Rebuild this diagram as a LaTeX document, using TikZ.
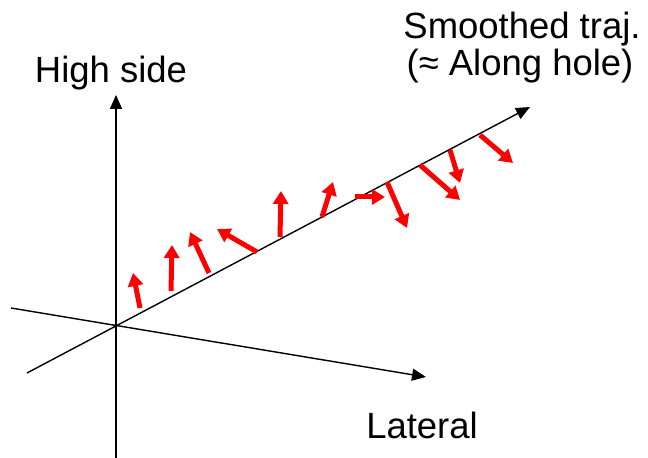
\documentclass[tikz,border=0pt]{standalone}
\usepackage{fontspec}
\setmainfont{Liberation Sans}
\usetikzlibrary{arrows.meta}
\tikzset{
  axis/.style={line width=1.4bp, -{Triangle[length=14bp,width=12bp]}},
  tool/.style={red, line width=5bp, -{Triangle[length=13bp,width=15bp]}},
  lbl/.style={font=\fontsize{36.6}{37.2}\selectfont, inner sep=0pt, anchor=base}
}
\begin{document}
\begin{tikzpicture}[x=1bp,y=-1bp]
  \useasboundingbox (0,0) rectangle (648,458);

  % Axes
  \coordinate (O) at (116,325);
  \coordinate (hsbot) at (116,458);
  \coordinate (hstop) at (116,95);
  \coordinate (latl) at (11,308);
  \coordinate (latr) at (426,377);
  \coordinate (trajl) at (27,373);
  \coordinate (trajr) at (530,107);
  \draw[axis] (hsbot) -- (hstop);
  \draw[axis] (latl) -- (latr);
  \draw[axis] (trajl) -- (trajr);

  % Labels
  \node[lbl] (hs) at (111,83) {High side};
  \node[lbl] (lat) at (422,438) {Lateral};
  \node[lbl] (tr1) at (522,39) {Smoothed traj.};
  \node[lbl] (tr2) at (520,76) {(≈ Along hole)};

  % Tool face vectors along the trajectory
  \foreach \bx/\by/\tx/\ty in {140/308/133/273, 171/291/172/245, 209/273/190/232,
      257/252/217/229, 280/237/281/191, 322/217/333/182, 355/197/385/197,
      387/182/407/228, 420/165/460/200, 450/150/460/183, 480/135/513/163}
    \draw[tool] (\bx,\by) -- (\tx,\ty);
\end{tikzpicture}
\end{document}
